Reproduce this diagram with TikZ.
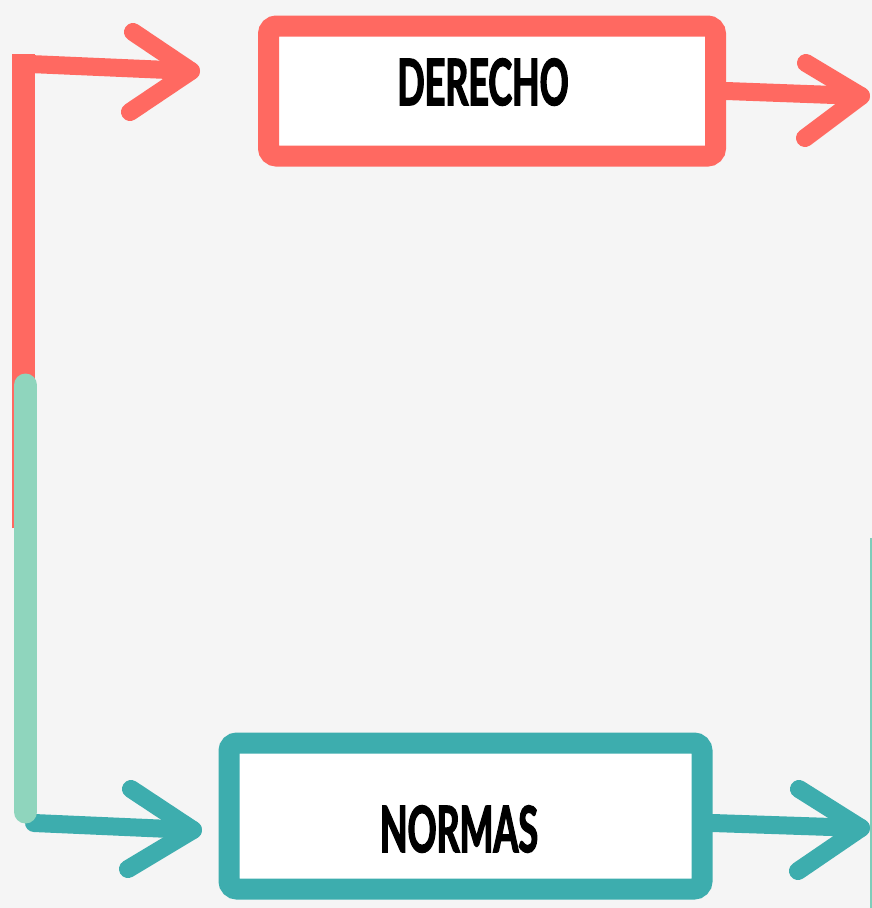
\documentclass[tikz,border=0pt]{standalone}
\usepackage{fontspec}
\newfontfamily\markfont[FakeStretch=0.56,FakeBold=2]{Lato}
\usetikzlibrary{calc,positioning}
\definecolor{redline}{HTML}{FF6961}
\definecolor{tealline}{HTML}{3DADAE}
\definecolor{mintline}{HTML}{8FD5BD}
\definecolor{paper}{HTML}{F5F5F5}

\begin{document}
\begin{tikzpicture}[x=1pt,y=-1pt,
  rbox/.style={draw=redline,fill=white,line width=21pt,rounded corners=8pt,minimum width=447pt,minimum height=130pt,inner sep=0pt},
  tbox/.style={draw=tealline,fill=white,line width=21pt,rounded corners=8pt,minimum width=473pt,minimum height=146pt,inner sep=0pt},
  tag/.style={font=\markfont\bfseries\fontsize{64}{64}\selectfont,inner sep=0pt},
  rpen/.style={draw=redline,line width=18pt,line cap=round,line join=round},
  tpen/.style={draw=tealline,line width=18pt,line cap=round,line join=round}]
              \useasboundingbox (0,0) rectangle (872,908);
              \fill[paper] (0,0) rectangle (872,908);

              \coordinate (redfoot) at (23,528);
              \coordinate (redtop) at (23,54);
              \coordinate (redknee) at (30,64);
              \coordinate (tipD) at (191,71);
              \coordinate (outD) at (861,96);
              \coordinate (tealknee) at (34,823);
              \coordinate (tipN) at (193,830);
              \coordinate (outN) at (861,828);
              \coordinate (mintTop) at (25.5,385);
              \coordinate (mintFoot) at (25.5,812);
              \coordinate (edgeTop) at (871,538);
              \coordinate (edgeFoot) at (871,908);

              \node[rbox] (derecho) at (492,91) {};
              \node[tbox] (normas) at (465.5,816) {};
              \node[tag] (derechotxt) at (483,82) {DERECHO};
              \node[tag] (normastxt) at (459,829) {NORMAS};

              \draw[redline,line width=23pt] (redfoot) -- (redtop);
              \draw[rpen] (redknee) -- (tipD);
              \draw[rpen] ($(tipD)+(-58,-39)$) -- (tipD) -- ($(tipD)+(-61,41)$);
              \draw[rpen] (derecho.east) -- (outD);
              \draw[rpen] ($(outD)+(-55,-33)$) -- (outD) -- ($(outD)+(-56,42)$);

              \draw[tpen] (tealknee) -- (tipN);
              \draw[tpen] ($(tipN)+(-62,-41)$) -- (tipN) -- ($(tipN)+(-65,39)$);
              \draw[tpen] ([yshift=-7pt]normas.east) -- (outN);
              \draw[tpen] ($(outN)+(-62,-39)$) -- (outN) -- ($(outN)+(-63,43)$);

              \draw[mintline,line width=23pt,line cap=round] (mintTop) -- (mintFoot);
              \draw[mintline!80!tealline,line width=2pt] (edgeTop) -- (edgeFoot);
            \end{tikzpicture}
\end{document}
